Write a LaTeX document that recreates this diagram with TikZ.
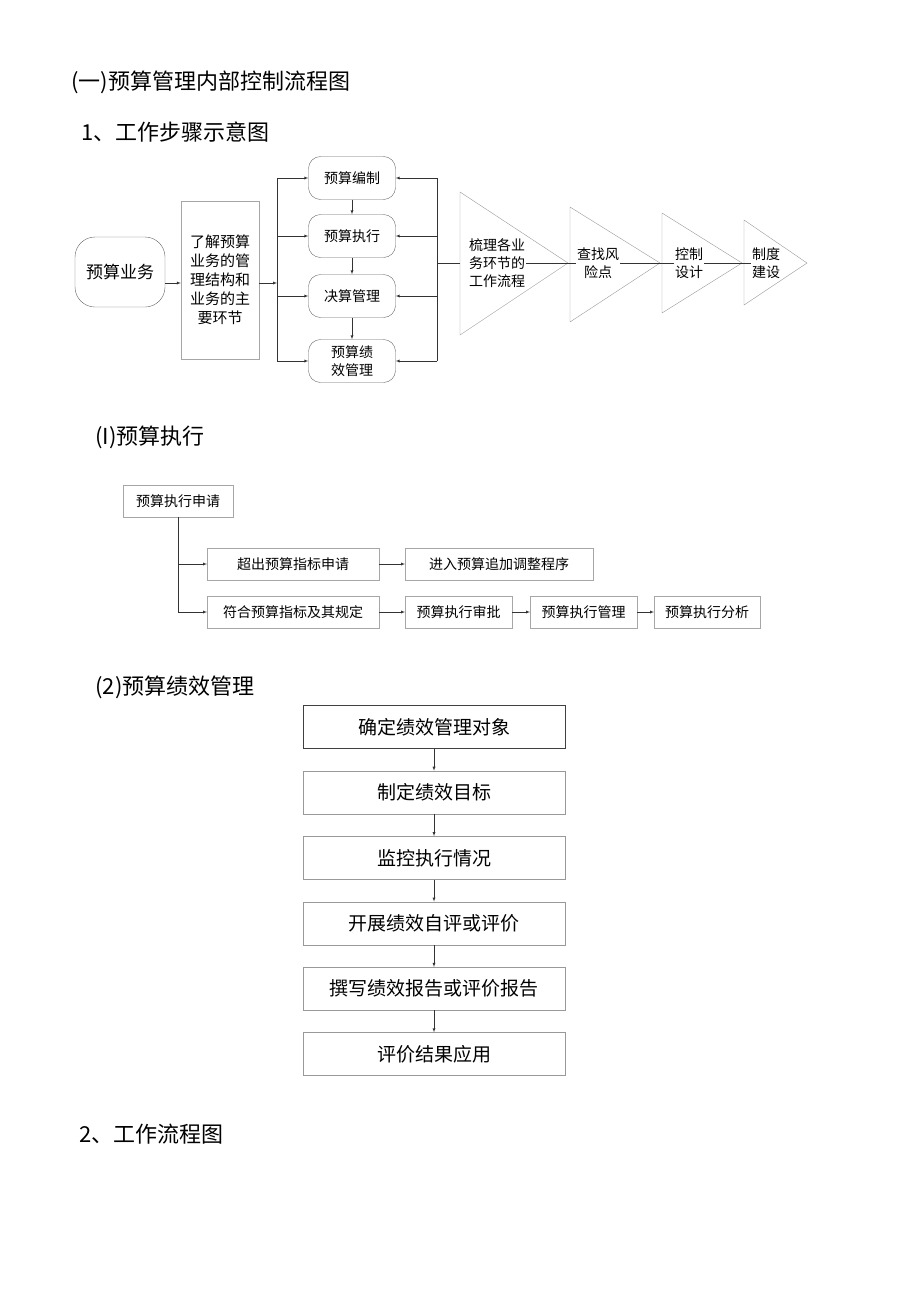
\documentclass[tikz,border=0pt]{standalone}
\usepackage{fontspec}
\setmainfont{Noto Sans CJK SC}
\usetikzlibrary{positioning}
\begin{document}
\begin{tikzpicture}[x=1pt,y=-1pt,
        title/.style={anchor=west, font=\fontsize{22}{26}\selectfont},
        roundnode/.style={rectangle, rounded corners=12pt, draw=black!60, inner sep=1pt, align=center, font=\fontsize{14}{18}\selectfont},
        greybox/.style={rectangle, draw=black!35, inner sep=2pt, align=center, font=\fontsize{14}{18}\selectfont},
        stepbox/.style={rectangle, draw=black!40, minimum width=262pt, minimum height=43pt, font=\fontsize{19}{22}\selectfont},
        tri/.style={draw=black!40},
        arr/.style={-latex, black!80},
    ]
        \useasboundingbox (0,0) rectangle (920,1301);
        %Titles
        \node[title] (t1) at (68,82) {(一)预算管理内部控制流程图};
        \node[title] (t2) at (78,132) {1、工作步骤示意图};
        \node[title] (t3) at (92,437) {(I)预算执行};
        \node[title] (t4) at (92,687) {(2)预算绩效管理};
        \node[title] (t5) at (76,1134) {2、工作流程图};

        %Steps diagram
        \node[roundnode, minimum width=90pt, minimum height=70pt, rounded corners=20pt, font=\fontsize{17}{20}\selectfont] (biz) at (120,272) {预算业务};
        \node[greybox, minimum width=78pt, minimum height=158pt, font=\fontsize{15}{19}\selectfont] (learn) at (220,280) {了解预算\\业务的管\\理结构和\\业务的主\\要环节};
        \node[roundnode, minimum width=87pt, minimum height=43pt] (draft) at (352,178) {预算编制};
        \node[roundnode, minimum width=87pt, minimum height=43pt] (exec) at (352,236) {预算执行};
        \node[roundnode, minimum width=87pt, minimum height=43pt] (final) at (352,296) {决算管理};
        \node[roundnode, minimum width=87pt, minimum height=43pt] (perf) at (352,361) {预算绩\\效管理};
        \coordinate (busL) at (277,283);
        \coordinate (busR) at (437,263);

        \draw[arr] (biz.east |- 0,283) -- (learn.west |- 0,283);
        \draw[arr] (learn.east |- busL) -- (busL);
        \draw[black!80] (277,178) -- (277,361);
        \draw[black!80] (437,178) -- (437,361);
        \foreach \n in {draft,exec,final,perf} {
            \draw[arr] (277,0 |- \n.west) -- (\n.west);
            \draw[arr] (437,0 |- \n.east) -- (\n.east);
        }
        \draw[arr] (draft) -- (exec);
        \draw[arr] (exec) -- (final);
        \draw[arr] (final) -- (perf);

        \draw[tri] (460,192) -- (568,263) -- (460,335) -- cycle;
        \draw[tri] (570,207) -- (660,263) -- (570,322) -- cycle;
        \draw[tri] (662,213) -- (742,263) -- (662,313) -- cycle;
        \draw[tri] (744,220) -- (807,263) -- (744,305) -- cycle;
        \node[align=center, inner sep=1pt, font=\fontsize{14}{18}\selectfont] (sort) at (497,263) {梳理各业\\务环节的\\工作流程};
        \node[align=center, inner sep=1pt, font=\fontsize{14}{18}\selectfont] (risk) at (598,263) {查找风\\险点};
        \node[align=center, inner sep=1pt, font=\fontsize{14}{18}\selectfont] (ctrl) at (689,263) {控制\\设计};
        \node[align=center, inner sep=1pt, font=\fontsize{14}{18}\selectfont] (rule) at (766,263) {制度\\建设};
        \draw[black!80] (busR) -- (460,263);
        \draw[black!80] (sort.east) -- (risk.west);
        \draw[black!80] (risk.east) -- (ctrl.west);
        \draw[black!80] (ctrl.east) -- (rule.west);

        %Execution diagram
        \node[greybox, minimum width=110pt, minimum height=32pt] (apply) at (178,501) {预算执行申请};
        \node[greybox, minimum width=172pt, minimum height=32pt, anchor=west] (over) at (207,564) {超出预算指标申请};
        \node[greybox, minimum width=188pt, minimum height=32pt, anchor=west] (adjust) at (405,564) {进入预算追加调整程序};
        \node[greybox, minimum width=172pt, minimum height=32pt, anchor=west] (meet) at (207,612) {符合预算指标及其规定};
        \node[greybox, minimum width=107pt, minimum height=32pt, anchor=west] (approve) at (405,612) {预算执行审批};
        \node[greybox, minimum width=107pt, minimum height=32pt, anchor=west] (manage) at (530,612) {预算执行管理};
        \node[greybox, minimum width=106pt, minimum height=32pt, anchor=west] (analyse) at (654,612) {预算执行分析};
        \draw[black!80] (apply.south) -- (178,612);
        \draw[arr] (178,564) -- (over.west);
        \draw[arr] (178,612) -- (meet.west);
        \draw[arr] (over) -- (adjust);
        \draw[arr] (meet) -- (approve);
        \draw[arr] (approve) -- (manage);
        \draw[arr] (manage) -- (analyse);

        %Performance diagram
        \node[stepbox, draw=black!75] (s1) at (434,727) {确定绩效管理对象};
        \node[stepbox, below=22pt of s1] (s2) {制定绩效目标};
        \node[stepbox, below=22pt of s2] (s3) {监控执行情况};
        \node[stepbox, below=22pt of s3] (s4) {开展绩效自评或评价};
        \node[stepbox, below=22pt of s4] (s5) {撰写绩效报告或评价报告};
        \node[stepbox, below=22pt of s5] (s6) {评价结果应用};
        \foreach \a/\b in {s1/s2,s2/s3,s3/s4,s4/s5,s5/s6}
            \draw[arr] (\a) -- (\b);
    \end{tikzpicture}
\end{document}
